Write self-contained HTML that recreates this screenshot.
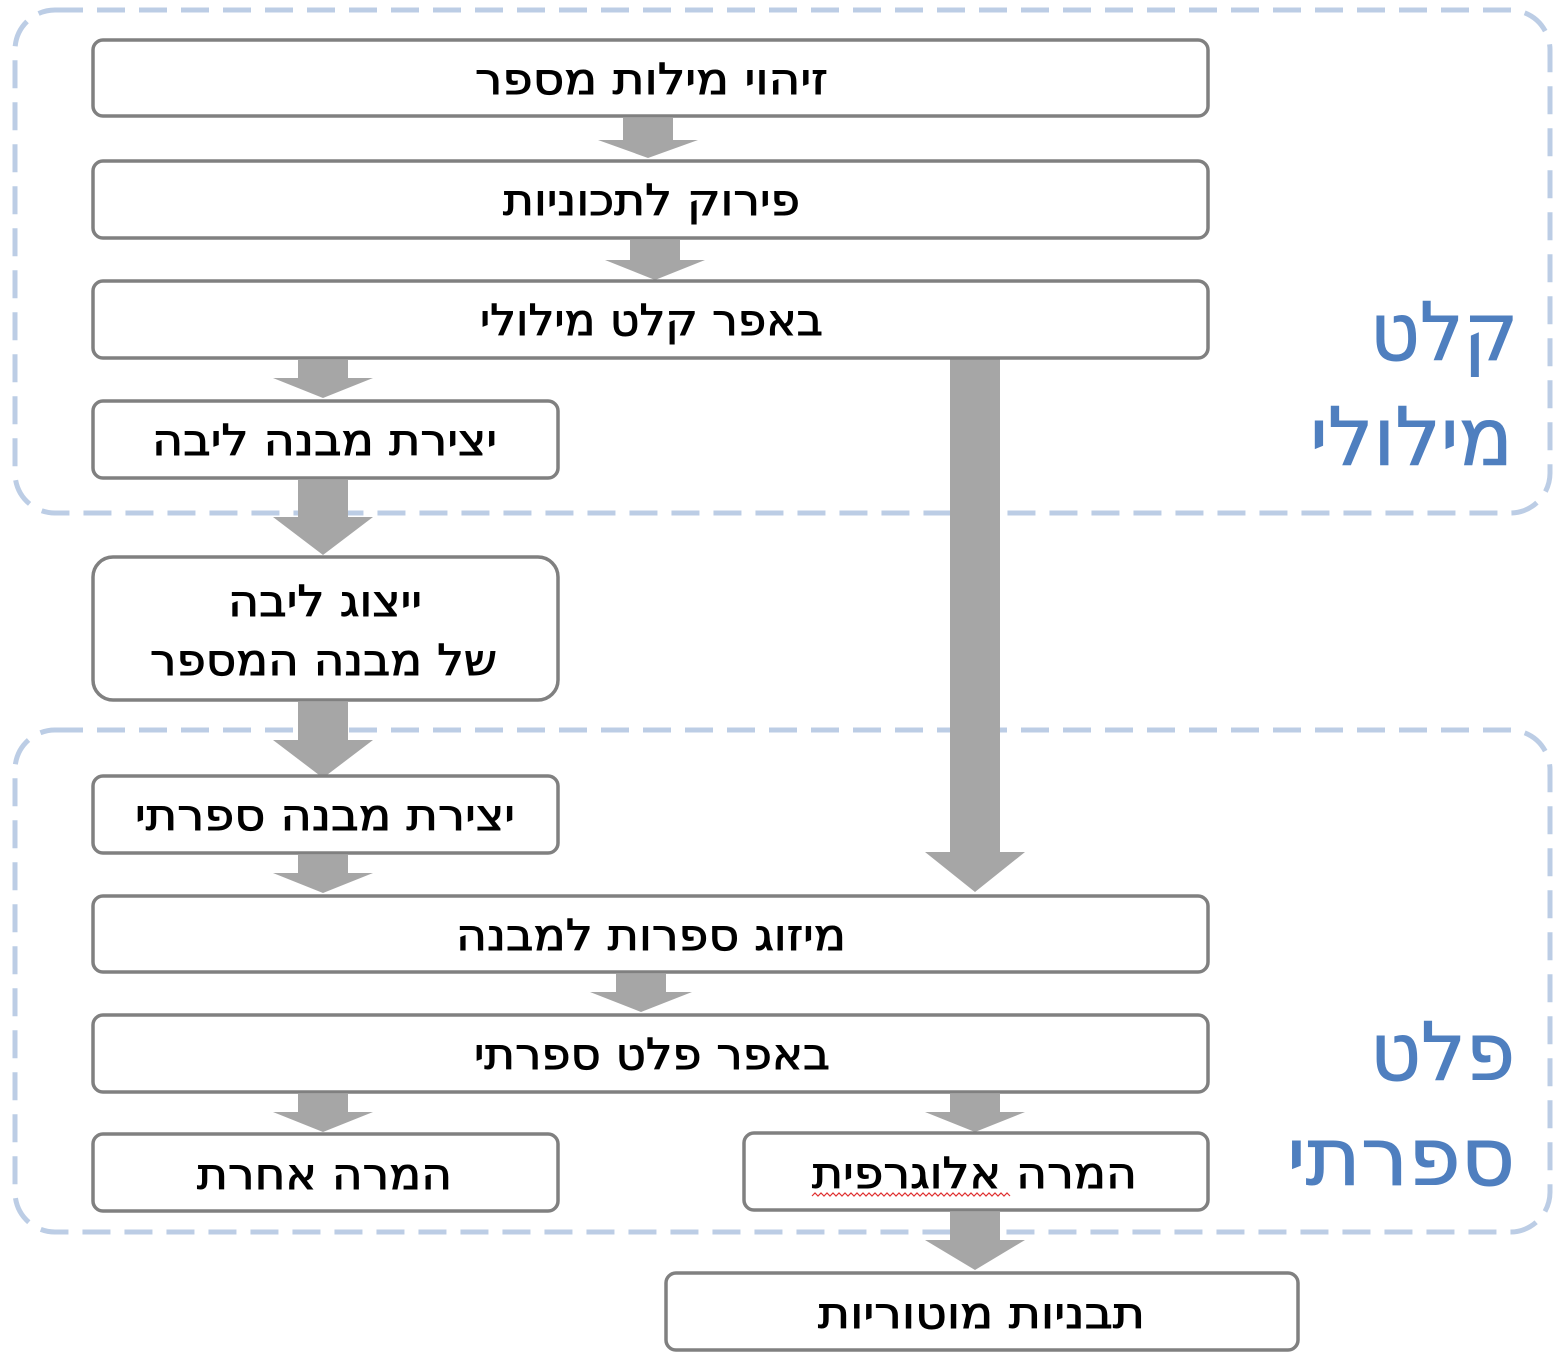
<!DOCTYPE html>
<html><head><meta charset="utf-8"><style>
html,body{margin:0;padding:0;background:#fff;}
svg{display:block;}
text{font-family:"DejaVu Sans","Liberation Sans",sans-serif;}
</style></head><body>
<svg width="1568" height="1356" viewBox="0 0 1568 1356" xmlns="http://www.w3.org/2000/svg">
<g fill="none" stroke="#bccde5" stroke-width="5" stroke-dasharray="28 14">
<rect x="15" y="10" width="1535" height="503" rx="40"/>
<rect x="15" y="730" width="1535" height="502" rx="40"/>
</g>
<g fill="#a6a6a6">
<polygon points="623,118 673,118 673,140 698,140 648,158 598,140 623,140"/>
<polygon points="630,240 680,240 680,260 705,260 655,280 605,260 630,260"/>
<polygon points="298,360 348,360 348,378 373,378 323,398 273,378 298,378"/>
<polygon points="298,480 348,480 348,517 373,517 323,555 273,517 298,517"/>
<polygon points="298,702 348,702 348,740 373,740 323,778 273,740 298,740"/>
<polygon points="298,855 348,855 348,873 373,873 323,893 273,873 298,873"/>
<polygon points="616,974 666,974 666,992 692,992 641,1012 590,992 616,992"/>
<polygon points="298,1094 348,1094 348,1112 373,1112 323,1132 273,1112 298,1112"/>
<polygon points="950,1094 1000,1094 1000,1112 1025,1112 975,1132 925,1112 950,1112"/>
<polygon points="950,1212 1000,1212 1000,1240 1025,1240 975,1270 925,1240 950,1240"/>
<polygon points="950,358 1000,358 1000,852 1025,852 975,892 925,852 950,852"/>
</g>
<g fill="#fff" stroke="#808080" stroke-width="3.5">
<rect x="93" y="40" width="1115" height="76" rx="10"/>
<rect x="93" y="161" width="1115" height="77" rx="10"/>
<rect x="93" y="281" width="1115" height="77" rx="10"/>
<rect x="93" y="401" width="465" height="77" rx="10"/>
<rect x="93" y="557" width="465" height="143" rx="20"/>
<rect x="93" y="776" width="465" height="77" rx="10"/>
<rect x="93" y="896" width="1115" height="76" rx="10"/>
<rect x="93" y="1015" width="1115" height="77" rx="10"/>
<rect x="93" y="1134" width="465" height="77" rx="10"/>
<rect x="744" y="1133" width="464" height="77" rx="10"/>
<rect x="666" y="1273" width="632" height="77" rx="10"/>
</g>
<g font-size="43" fill="#000" stroke="#000" stroke-width="0.9" direction="rtl">
<text x="828" y="94" textLength="353" lengthAdjust="spacingAndGlyphs">זיהוי מילות מספר</text>
<text x="800" y="215" textLength="297" lengthAdjust="spacingAndGlyphs">פירוק לתכוניות</text>
<text x="823" y="335" textLength="343" lengthAdjust="spacingAndGlyphs">באפר קלט מילולי</text>
<text x="497" y="455" textLength="345" lengthAdjust="spacingAndGlyphs">יצירת מבנה ליבה</text>
<text x="422" y="616" textLength="194" lengthAdjust="spacingAndGlyphs">ייצוג ליבה</text>
<text x="497" y="675" textLength="347" lengthAdjust="spacingAndGlyphs">של מבנה המספר</text>
<text x="515" y="830" textLength="380" lengthAdjust="spacingAndGlyphs">יצירת מבנה ספרתי</text>
<text x="846" y="950" textLength="390" lengthAdjust="spacingAndGlyphs">מיזוג ספרות למבנה</text>
<text x="830" y="1069" textLength="356" lengthAdjust="spacingAndGlyphs">באפר פלט ספרתי</text>
<text x="452" y="1189" textLength="255" lengthAdjust="spacingAndGlyphs">המרה אחרת</text>
<text x="1137" y="1188" textLength="325" lengthAdjust="spacingAndGlyphs">המרה אלוגרפית</text>
<text x="1145" y="1328" textLength="327" lengthAdjust="spacingAndGlyphs">תבניות מוטוריות</text>
</g>
<path d="M812,1196 l3,-3 l3,3 l3,-3 l3,3 l3,-3 l3,3 l3,-3 l3,3 l3,-3 l3,3 l3,-3 l3,3 l3,-3 l3,3 l3,-3 l3,3 l3,-3 l3,3 l3,-3 l3,3 l3,-3 l3,3 l3,-3 l3,3 l3,-3 l3,3 l3,-3 l3,3 l3,-3 l3,3 l3,-3 l3,3 l3,-3 l3,3 l3,-3 l3,3 l3,-3 l3,3 l3,-3 l3,3 l3,-3 l3,3 l3,-3 l3,3 l3,-3 l3,3 l3,-3 l3,3 l3,-3 l3,3 l3,-3 l3,3 l3,-3 l3,3 l3,-3 l3,3 l3,-3 l3,3 l3,-3 l3,3 l3,-3 l3,3 l3,-3 l3,3 l3,-3 l3,3" fill="none" stroke="#e03030" stroke-width="1.2"/>
<g font-size="80" fill="#4f7fbf" stroke="#4f7fbf" stroke-width="1" direction="rtl">
<text x="1518" y="360" textLength="148" lengthAdjust="spacingAndGlyphs">קלט</text>
<text x="1513" y="465" textLength="203" lengthAdjust="spacingAndGlyphs">מילולי</text>
<text x="1515" y="1080" textLength="145" lengthAdjust="spacingAndGlyphs">פלט</text>
<text x="1515" y="1185" textLength="228" lengthAdjust="spacingAndGlyphs">ספרתי</text>
</g>
</svg>
</body></html>
